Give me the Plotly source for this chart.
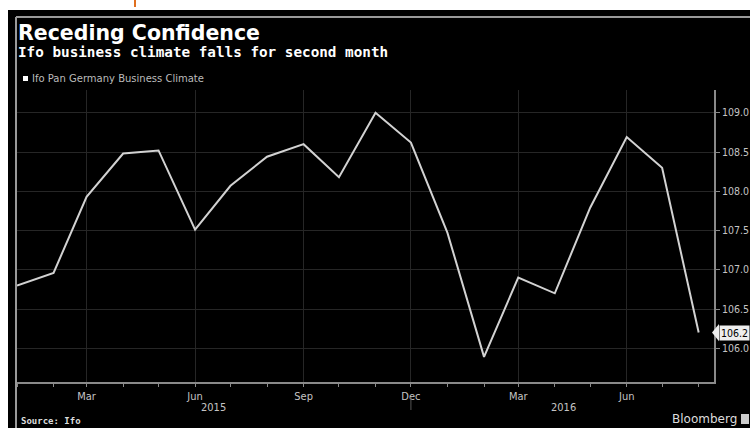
import plotly.graph_objects as go

# ---- data ----
months = ["2015-01-01", "2015-02-01", "2015-03-01", "2015-04-01", "2015-05-01", "2015-06-01",
          "2015-07-01", "2015-08-01", "2015-09-01", "2015-10-01", "2015-11-01", "2015-12-01",
          "2016-01-01", "2016-02-01", "2016-03-01", "2016-04-01", "2016-05-01", "2016-06-01",
          "2016-07-01", "2016-08-01"]
ifo_values = [106.8, 106.96, 107.93, 108.48, 108.52, 107.51, 108.07, 108.44, 108.6, 108.18, 109.0,
              108.62, 107.47, 105.89, 106.9, 106.7, 107.79, 108.69, 108.3, 106.2]
x_tick_vals = ["2015-03-01", "2015-06-01", "2015-09-01", "2015-12-01", "2016-03-01", "2016-06-01"]
x_tick_text = ["Mar", "Jun", "Sep", "Dec", "Mar", "Jun"]
y_tick_vals = [106.0, 106.5, 107.0, 107.5, 108.0, 108.5, 109.0]
y_tick_text = ["106.0", "106.5", "107.0", "107.5", "108.0", "108.5", "109.0"]
series_name = "Ifo Pan Germany Business Climate"
last_label = "106.2"

# page margin is removed in post_script, so the figure fills the window
W, H = 750, 428
SL, SR, ST, SB = 17, 714, 90, 382          # plot area in window pixels
L, R, T, B = SL, W - SR, ST, H - SB
PW, PH = SR - SL, SB - ST


def px(x):
    return (x - SL) / PW


def py(y):
    return 1 - (y - ST) / PH


GRAY = "#c4c4c4"
GRID = "#262626"
AXIS = "#8a8a8a"

fig = go.Figure()
fig.add_trace(go.Scatter(x=months, y=ifo_values, mode="lines", name=series_name,
                         line=dict(color="#d2d2d2", width=2), showlegend=False,
                         hoverinfo="x+y"))

shapes = [
    # white outer strips (top and left)
    dict(type="rect", xref="paper", yref="paper", x0=px(-5), x1=px(760), y0=py(10), y1=py(-5),
         fillcolor="white", line=dict(width=0), layer="below"),
    dict(type="rect", xref="paper", yref="paper", x0=px(-5), x1=px(8), y0=py(440), y1=py(-5),
         fillcolor="white", line=dict(width=0), layer="below"),
    # small orange mark in top strip
    dict(type="rect", xref="paper", yref="paper", x0=px(134), x1=px(136), y0=py(7), y1=py(0),
         fillcolor="#e07020", line=dict(width=0)),
    # frame lines
    dict(type="line", xref="paper", yref="paper", x0=px(16), x1=px(760), y0=py(17), y1=py(17),
         line=dict(color="#9a9a9a", width=2)),
    dict(type="line", xref="paper", yref="paper", x0=px(16), x1=px(16), y0=py(17), y1=py(440),
         line=dict(color="#9a9a9a", width=2)),
    # legend square
    dict(type="rect", xref="paper", yref="paper", x0=px(23), x1=px(28), y0=py(76), y1=py(81),
         fillcolor="white", line=dict(width=0)),
    # year separator below Dec
    dict(type="line", xref="x", yref="paper", x0="2015-12-01", x1="2015-12-01",
         y0=py(397), y1=py(410), line=dict(color="#555555", width=1)),
    # last value pointer
    dict(type="path", xref="paper", yref="y",
         path=f"M {px(712)} 106.2 L {px(719)} {106.2 + 0.11} L {px(719)} {106.2 - 0.11} Z",
         fillcolor="#eeeeee", line=dict(width=0)),
    # logo square
    dict(type="rect", xref="paper", yref="paper", x0=px(741), x1=px(749), y0=py(414), y1=py(424),
         fillcolor="#cccccc", line=dict(width=0)),
]

annotations = [
    dict(text="<b>Receding Confidence</b>", xref="paper", yref="paper", x=px(16), y=py(33),
         xanchor="left", yanchor="middle", showarrow=False,
         font=dict(family="DejaVu Sans", size=20.5, color="white")),
    dict(text="<b>Ifo business climate falls for second month</b>", xref="paper", yref="paper",
         x=px(16), y=py(52), xanchor="left", yanchor="middle", showarrow=False,
         font=dict(family="DejaVu Sans Mono", size=14.3, color="white")),
    dict(text=series_name, xref="paper", yref="paper", x=px(30), y=py(79),
         xanchor="left", yanchor="middle", showarrow=False,
         font=dict(family="DejaVu Sans", size=10, color="#bbbbbb")),
    dict(text="2015", xref="paper", yref="paper", x=px(213), y=py(407),
         xanchor="center", yanchor="middle", showarrow=False,
         font=dict(family="DejaVu Sans Condensed", size=11, color=GRAY)),
    dict(text="2016", xref="paper", yref="paper", x=px(563), y=py(407),
         xanchor="center", yanchor="middle", showarrow=False,
         font=dict(family="DejaVu Sans Condensed", size=11, color=GRAY)),
    dict(text="<b>Source: Ifo</b>", xref="paper", yref="paper", x=px(19), y=py(421),
         xanchor="left", yanchor="middle", showarrow=False,
         font=dict(family="DejaVu Sans Mono", size=9, color="#dddddd")),
    dict(text="Bloomberg", xref="paper", yref="paper", x=px(739), y=py(419),
         xanchor="right", yanchor="middle", showarrow=False,
         font=dict(family="DejaVu Sans", size=12, color="#dddddd")),
    dict(text=last_label, xref="paper", yref="y", x=px(719), y=106.2,
         xanchor="left", yanchor="middle", showarrow=False, bgcolor="#eeeeee",
         borderpad=1, font=dict(family="DejaVu Sans Condensed", size=10.5, color="black")),
]

fig.update_layout(
    width=W, height=H,
    margin=dict(l=L, r=R, t=T, b=B, pad=0, autoexpand=False),
    paper_bgcolor="black", plot_bgcolor="black",
    shapes=shapes, annotations=annotations,
    xaxis=dict(type="date", range=["2015-01-01", "2016-08-14"], automargin=False,
               tickvals=x_tick_vals, ticktext=x_tick_text,
               showgrid=True, gridcolor=GRID, gridwidth=1,
               ticks="outside", ticklen=3, tickcolor=AXIS,
               minor=dict(dtick="M1", tick0="2015-01-01", ticks="outside", ticklen=3,
                          tickcolor=AXIS, showgrid=False),
               showline=True, linecolor=AXIS, linewidth=2,
               tickfont=dict(family="DejaVu Sans Condensed", size=11, color=GRAY),
               zeroline=False, fixedrange=True),
    yaxis=dict(side="right", range=[105.57, 109.29], automargin=False,
               tickvals=y_tick_vals, ticktext=y_tick_text,
               showgrid=True, gridcolor=GRID, gridwidth=1,
               ticks="outside", ticklen=4, tickcolor=AXIS,
               showline=True, linecolor=AXIS, linewidth=2,
               tickfont=dict(family="DejaVu Sans Condensed", size=10.5, color=GRAY),
               zeroline=False, fixedrange=True),
    hovermode="closest",
)

fig.write_html(
    "out.html",
    config={"displayModeBar": False},
    post_script="document.body.style.margin='0';"
                "document.documentElement.style.overflow='hidden';"
                "document.body.style.overflow='hidden';",
)
